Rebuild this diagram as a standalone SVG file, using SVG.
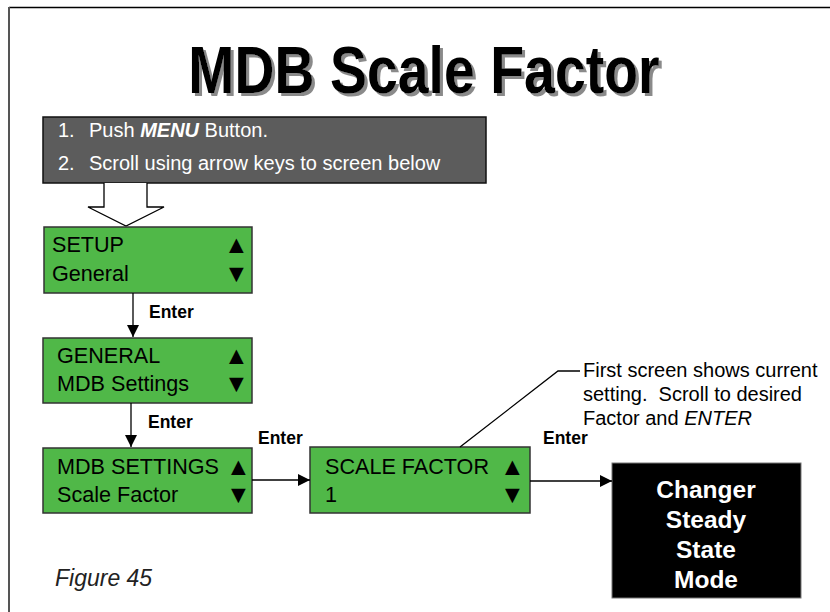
<svg xmlns="http://www.w3.org/2000/svg" width="830" height="612" viewBox="0 0 830 612">
<style>
.t{font-family:"Liberation Sans",Arial,sans-serif}
.scr{fill:#50b848;stroke:#333;stroke-width:1.5}
.st{font-family:"Liberation Sans",Arial,sans-serif;font-size:21.6px;fill:#000}
.tri{font-family:"Liberation Sans",Arial,sans-serif;font-size:25px;fill:#000}
.en{font-family:"Liberation Sans",Arial,sans-serif;font-size:17.5px;font-weight:bold;fill:#000}
.ln{stroke:#000;stroke-width:1.3;fill:none}
</style>
<defs>
<marker id="ah" markerWidth="12" markerHeight="12" refX="12" refY="6" orient="auto" markerUnits="userSpaceOnUse">
<path d="M0,0 L12,6 L0,12 Z" fill="#000"/>
</marker>
<filter id="shadow" x="-5%" y="-20%" width="110%" height="140%">
<feOffset in="SourceAlpha" dx="3" dy="3" result="off"/>
<feFlood flood-color="#8a8a8a"/>
<feComposite in2="off" operator="in" result="sh"/>
<feMerge><feMergeNode in="sh"/><feMergeNode in="SourceGraphic"/></feMerge>
</filter>
</defs>
<rect width="830" height="612" fill="#fff"/>
<g id="frame">
<line x1="9" y1="7.5" x2="830" y2="7.5" stroke="#000" stroke-width="1.5"/>
<line x1="9" y1="7" x2="9" y2="612" stroke="#555" stroke-width="2"/>
</g>
<g id="title">
<text class="t" x="424" y="93" font-size="66" font-weight="bold" text-anchor="middle" fill="#000" filter="url(#shadow)" transform="translate(424 0) scale(0.84 1) translate(-424 0)">MDB Scale Factor</text>
</g>
<g id="instructions">
<rect x="43" y="117" width="443" height="66" fill="#5c5c5c" stroke="#111" stroke-width="1.5"/>
<text class="t" font-size="20" fill="#fff"><tspan x="58" y="137">1.</tspan><tspan x="89" y="137">Push <tspan font-weight="bold" font-style="italic">MENU</tspan> Button.</tspan></text>
<text class="t" font-size="20" fill="#fff"><tspan x="58" y="170">2.</tspan><tspan x="89" y="170">Scroll using arrow keys to screen below</tspan></text>
</g>
<g id="hollow-arrow">
<path d="M104,183 L104,207 L88,207 L126,226 L164,207 L147,207 L147,183" fill="#fff" stroke="#000" stroke-width="1.3"/>
</g>
<g id="setup">
<rect class="scr" x="44" y="227" width="208" height="66"/>
<text class="st" x="52" y="252">SETUP</text>
<text class="st" x="52" y="281">General</text>
<text class="tri" x="224" y="253">▲</text>
<text class="tri" x="224" y="282">▼</text>
</g>
<g id="general">
<rect class="scr" x="43" y="338" width="209" height="65"/>
<text class="st" x="57" y="363">GENERAL</text>
<text class="st" x="57" y="391">MDB Settings</text>
<text class="tri" x="224" y="364">▲</text>
<text class="tri" x="224" y="392">▼</text>
</g>
<g id="mdb-settings">
<rect class="scr" x="43" y="448" width="209" height="65"/>
<text class="st" x="57" y="474">MDB SETTINGS</text>
<text class="st" x="57" y="502">Scale Factor</text>
<text class="tri" x="226" y="475">▲</text>
<text class="tri" x="226" y="503">▼</text>
</g>
<g id="scale-factor">
<rect class="scr" x="310" y="447" width="220" height="66"/>
<text class="st" x="325" y="474">SCALE FACTOR</text>
<text class="st" x="325" y="502">1</text>
<text class="tri" x="500" y="475">▲</text>
<text class="tri" x="500" y="503">▼</text>
</g>
<g id="steady-state">
<rect x="612" y="463" width="189" height="135" fill="#000" stroke="#777" stroke-width="1"/>
<text class="t" font-size="24.5" font-weight="bold" fill="#fff" text-anchor="middle"><tspan x="706" y="498">Changer</tspan><tspan x="706" y="528">Steady</tspan><tspan x="706" y="558">State</tspan><tspan x="706" y="588">Mode</tspan></text>
</g>
<g id="callout">
<text class="t" font-size="20" fill="#000" style="white-space:pre"><tspan x="583" y="377">First screen shows current</tspan><tspan x="583" y="401">setting.  Scroll to desired</tspan><tspan x="583" y="425">Factor and <tspan font-style="italic">ENTER</tspan></tspan></text>
</g>
<g id="figure-label">
<text class="t" x="55" y="586" font-size="23" font-style="italic" fill="#222">Figure 45</text>
</g>
<g id="connectors">
<line class="ln" x1="133" y1="293" x2="133" y2="337" marker-end="url(#ah)"/>
<text class="en" x="149" y="318">Enter</text>
<line class="ln" x1="131" y1="403" x2="131" y2="447" marker-end="url(#ah)"/>
<text class="en" x="148" y="428">Enter</text>
<line class="ln" x1="252" y1="480" x2="310" y2="480" marker-end="url(#ah)"/>
<text class="en" x="258" y="444">Enter</text>
<line class="ln" x1="530" y1="481" x2="612" y2="481" marker-end="url(#ah)"/>
<text class="en" x="543" y="444">Enter</text>
<polyline class="ln" points="460,447 558,371 580,371"/>
</g>
</svg>
